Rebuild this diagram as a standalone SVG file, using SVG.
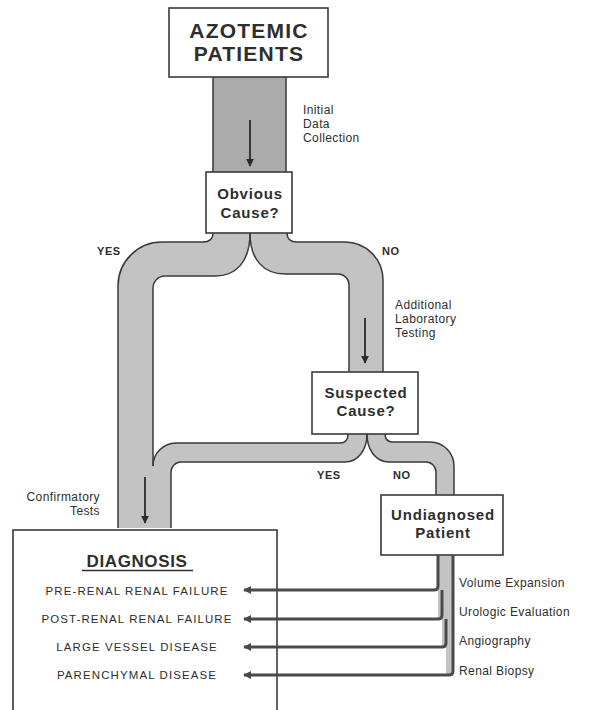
<svg xmlns="http://www.w3.org/2000/svg" width="589" height="710" viewBox="0 0 589 710">
<defs>
<style>
.box{fill:#fff;stroke:#3a3a3a;stroke-width:1.6}
.pipe{fill:#c3c3c3;stroke:none}
.pipeTop{fill:#ababab;stroke:none}
.edge{fill:none;stroke:#3a3a3a;stroke-width:1.5}
.arr{stroke:#2a2a2a;stroke-width:1.8;fill:none}
.lead{fill:none;stroke:#4a4a4a;stroke-width:3}
text{font-family:"Liberation Sans",Arial,Helvetica,sans-serif;fill:#2e2e2e}
.t1{font-size:21px;font-weight:bold;letter-spacing:1.2px;text-anchor:middle}
.t2{font-size:15px;font-weight:bold;letter-spacing:0.8px;text-anchor:middle}
.side{font-size:12px;letter-spacing:0.4px}
.yn{font-size:11px;font-weight:bold;letter-spacing:0.6px}
.item{font-size:11.5px;letter-spacing:1.1px;text-anchor:middle}
.dx{font-size:17px;font-weight:bold;letter-spacing:0.6px;text-anchor:middle}
</style>
<marker id="ah" viewBox="0 0 10 10" refX="9" refY="5" markerWidth="8" markerHeight="8" markerUnits="userSpaceOnUse" orient="auto">
<path d="M0 0 L10 5 L0 10 Z" fill="#2a2a2a"/>
</marker>
<marker id="ahs" viewBox="0 0 10 10" refX="9" refY="5" markerWidth="3.2" markerHeight="2.6" orient="auto">
<path d="M0 0 L10 5 L0 10 Z" fill="#4a4a4a"/>
</marker>
</defs>

<g id="connectors">
<!-- fills -->
<rect class="pipeTop" x="213" y="76" width="73" height="97"/>
<path class="pipe" d="M213 233 C213 239 209 242 203 242 L162 242 A44 44 0 0 0 118 286 L118 528 L153 528 L153 288 A12 12 0 0 1 165 276 L215 276 C236 276 250 262 250 233 Z"/>
<path class="pipe" d="M287 233 C287 239 291 242 297 242 L345 242 A38 38 0 0 1 383 280 L383 372 L349 372 L349 285 A11 11 0 0 0 338 274 L285 274 C264 274 250 260 250 233 Z"/>
<path class="pipe" d="M348 434 C348 440 345 443 340 443 L176 443 A23 23 0 0 0 153 466 L153 528 L171 528 L171 472 A10 10 0 0 1 181 462 L345 462 C358 462 367 450 367 434 Z"/>
<path class="pipe" d="M385 434 C385 439 388 442 393 442 L430 442 A24 24 0 0 1 454 466 L454 495 L436 495 L436 472 A10 10 0 0 0 426 462 L389 462 C376 462 367 450 367 434 Z"/>
<path class="pipe" d="M438 555 H453 V675 H446 V647 H442 V619 H438 Z"/>
<!-- edges -->
<path class="edge" d="M213 76 V173 M286 76 V173"/>
<path class="edge" d="M213 233 C213 239 209 242 203 242 L162 242 A44 44 0 0 0 118 286 L118 528"/>
<path class="edge" d="M250 233 C250 262 236 276 215 276 L165 276 A12 12 0 0 0 153 288 L153 466"/>
<path class="edge" d="M287 233 C287 239 291 242 297 242 L345 242 A38 38 0 0 1 383 280 L383 372"/>
<path class="edge" d="M250 233 C250 260 264 274 285 274 L338 274 A11 11 0 0 1 349 285 L349 372"/>
<path class="edge" d="M348 434 C348 440 345 443 340 443 L176 443 A23 23 0 0 0 153 466"/>
<path class="edge" d="M367 434 C367 450 358 462 345 462 L181 462 A10 10 0 0 0 171 472 L171 528"/>
<path class="edge" d="M385 434 C385 439 388 442 393 442 L430 442 A24 24 0 0 1 454 466 L454 495"/>
<path class="edge" d="M367 434 C367 450 376 462 389 462 L426 462 A10 10 0 0 1 436 472 L436 495"/>
<!-- arrows in pipes -->
<line class="arr" x1="250" y1="120" x2="250" y2="166" marker-end="url(#ah)"/>
<line class="arr" x1="365" y1="318" x2="365" y2="363" marker-end="url(#ah)"/>
<line class="arr" x1="145" y1="477" x2="145" y2="523" marker-end="url(#ah)"/>
</g>

<g id="azotemic">
<rect class="box" x="169" y="8" width="159" height="69"/>
<text class="t1" x="249" y="38">AZOTEMIC</text>
<text class="t1" x="249" y="61">PATIENTS</text>
</g>

<g id="obvious">
<rect class="box" x="206" y="172" width="86" height="61"/>
<text class="t2" x="250" y="199">Obvious</text>
<text class="t2" x="250" y="218">Cause?</text>
</g>

<g id="suspected">
<rect class="box" x="312" y="372" width="106" height="62"/>
<text class="t2" x="366" y="398">Suspected</text>
<text class="t2" x="366" y="416">Cause?</text>
</g>

<g id="undiagnosed">
<rect class="box" x="381" y="495" width="122" height="60"/>
<text class="t2" x="443" y="520">Undiagnosed</text>
<text class="t2" x="443" y="538">Patient</text>
</g>

<g id="diagnosis">
<rect class="box" x="13" y="530" width="264" height="190"/>
<text class="dx" x="137" y="567">DIAGNOSIS</text>
<line x1="82" y1="570.5" x2="193" y2="570.5" stroke="#2e2e2e" stroke-width="1.6"/>
<text class="item" x="137" y="595">PRE-RENAL RENAL FAILURE</text>
<text class="item" x="137" y="623">POST-RENAL RENAL FAILURE</text>
<text class="item" x="137" y="651">LARGE VESSEL DISEASE</text>
<text class="item" x="137" y="679">PARENCHYMAL DISEASE</text>
</g>

<g id="leads">
<path class="lead" d="M438 555 V586 Q438 590 434 590 H244" marker-end="url(#ahs)"/>
<path class="lead" d="M442 590 V615 Q442 619 438 619 H244" marker-end="url(#ahs)"/>
<path class="lead" d="M446 619 V643 Q446 647 442 647 H244" marker-end="url(#ahs)"/>
<path class="lead" d="M453 555 V671 Q453 675 449 675 H244" marker-end="url(#ahs)"/>
</g>

<g id="labels">
<text class="side" x="303" y="114">Initial</text>
<text class="side" x="303" y="128">Data</text>
<text class="side" x="303" y="142">Collection</text>
<text class="side" x="395" y="309">Additional</text>
<text class="side" x="395" y="323">Laboratory</text>
<text class="side" x="395" y="337">Testing</text>
<text class="side" x="100" y="501" text-anchor="end">Confirmatory</text>
<text class="side" x="100" y="515" text-anchor="end">Tests</text>
<text class="yn" x="97" y="255">YES</text>
<text class="yn" x="382" y="255">NO</text>
<text class="yn" x="317" y="479">YES</text>
<text class="yn" x="393" y="479">NO</text>
<text class="side" x="459" y="587">Volume Expansion</text>
<text class="side" x="459" y="616">Urologic Evaluation</text>
<text class="side" x="459" y="645">Angiography</text>
<text class="side" x="459" y="675">Renal Biopsy</text>
</g>
</svg>
